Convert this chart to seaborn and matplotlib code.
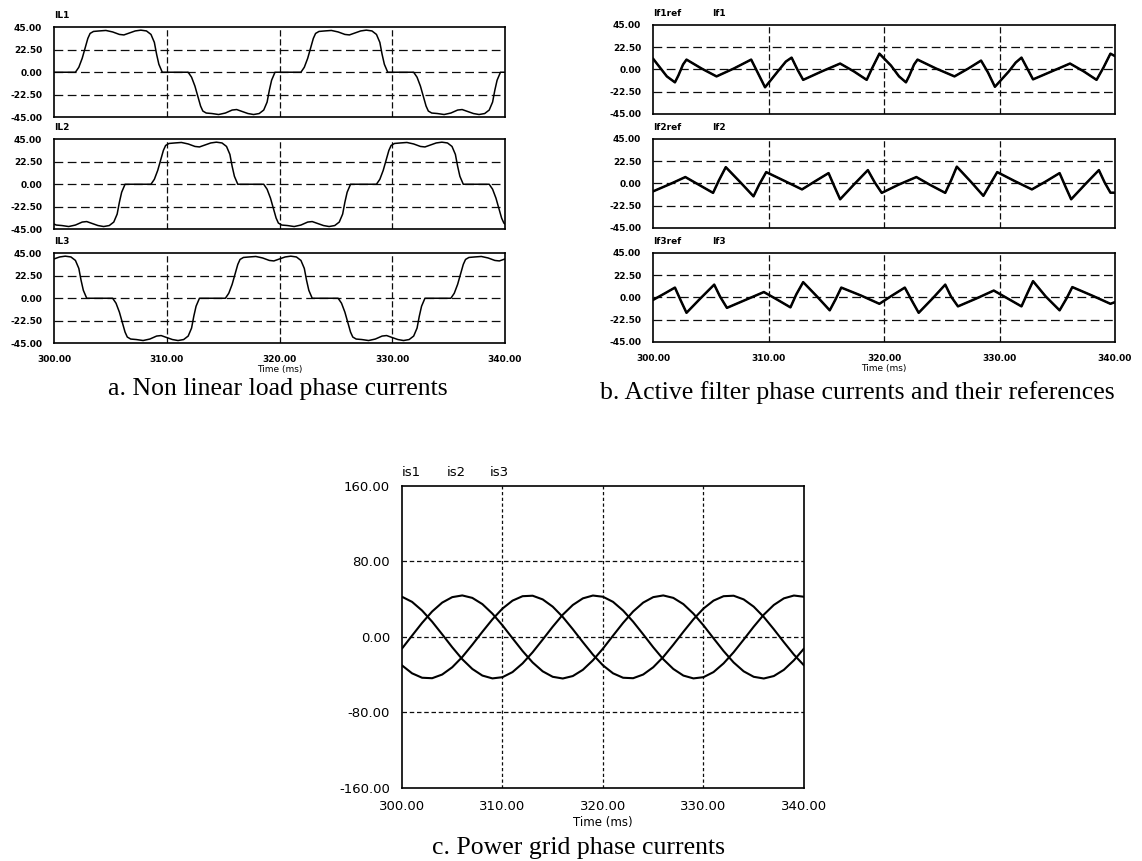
import matplotlib
matplotlib.use("Agg")
import matplotlib.pyplot as plt
import seaborn as sns

# ---------------- data (time in ms, current in A) ----------------

# a. non linear load phase currents
il1_t = [300.0,
         301.9, 302.2, 302.5, 302.8, 303.0, 303.2, 303.5, 304.0, 304.6, 305.2, 305.8, 306.2, 306.7, 307.2, 307.7, 308.2, 308.6, 308.9, 309.1, 309.3, 309.6,
         311.9, 312.2, 312.5, 312.8, 313.0, 313.2, 313.5, 314.0, 314.6, 315.2, 315.8, 316.2, 316.7, 317.2, 317.7, 318.2, 318.6, 318.9, 319.1, 319.3, 319.6,
         321.9, 322.2, 322.5, 322.8, 323.0, 323.2, 323.5, 324.0, 324.6, 325.2, 325.8, 326.2, 326.7, 327.2, 327.7, 328.2, 328.6, 328.9, 329.1, 329.3, 329.6,
         331.9, 332.2, 332.5, 332.8, 333.0, 333.2, 333.5, 334.0, 334.6, 335.2, 335.8, 336.2, 336.7, 337.2, 337.7, 338.2, 338.6, 338.9, 339.1, 339.3, 339.6,
         340.0]
il1_v = [0,
         0, 5, 14, 26, 34, 39, 41, 41.5, 42, 40.5, 38, 37.5, 39.5, 41.5, 42.3, 41.5, 38, 30, 18, 8, 0,
         0, -5, -14, -26, -34, -39, -41, -41.5, -42.5, -41, -38, -37.5, -39.5, -41.5, -42.5, -41.5, -38, -30, -18, -8, 0,
         0, 5, 14, 26, 34, 39, 41, 41.5, 42, 40.5, 38, 37.5, 39.5, 41.5, 42.3, 41.5, 38, 30, 18, 8, 0,
         0, -5, -14, -26, -34, -39, -41, -41.5, -42.5, -41, -38, -37.5, -39.5, -41.5, -42.5, -41.5, -38, -30, -18, -8, 0,
         0]

il2_t = [300.0, 300.2, 300.7, 301.3, 301.9, 302.5, 302.9, 303.4, 303.9, 304.4, 304.9, 305.3, 305.6, 305.8, 306.0, 306.3,
         308.6, 308.9, 309.2, 309.5, 309.7, 309.9, 310.2, 310.7, 311.3, 311.9, 312.5, 312.9, 313.4, 313.9, 314.4, 314.9, 315.3, 315.6, 315.8, 316.0, 316.3,
         318.6, 318.9, 319.2, 319.5, 319.7, 319.9, 320.2, 320.7, 321.3, 321.9, 322.5, 322.9, 323.4, 323.9, 324.4, 324.9, 325.3, 325.6, 325.8, 326.0, 326.3,
         328.6, 328.9, 329.2, 329.5, 329.7, 329.9, 330.2, 330.7, 331.3, 331.9, 332.5, 332.9, 333.4, 333.9, 334.4, 334.9, 335.3, 335.6, 335.8, 336.0, 336.3,
         338.6, 338.9, 339.2, 339.5, 339.7, 339.9, 340.0]
il2_v = [-40, -41, -41.5, -42.5, -41, -38, -37.5, -39.5, -41.5, -42.5, -41.5, -38, -30, -18, -8, 0,
         0, 5, 14, 26, 34, 39, 41, 41.5, 42, 40.5, 38, 37.5, 39.5, 41.5, 42.3, 41.5, 38, 30, 18, 8, 0,
         0, -5, -14, -26, -34, -39, -41, -41.5, -42.5, -41, -38, -37.5, -39.5, -41.5, -42.5, -41.5, -38, -30, -18, -8, 0,
         0, 5, 14, 26, 34, 39, 41, 41.5, 42, 40.5, 38, 37.5, 39.5, 41.5, 42.3, 41.5, 38, 30, 18, 8, 0,
         0, -5, -14, -26, -34, -39, -40]

il3_t = [300.0, 300.5, 301.0, 301.5, 301.9, 302.2, 302.4, 302.6, 302.9,
         305.2, 305.5, 305.8, 306.1, 306.3, 306.5, 306.8, 307.3, 307.9, 308.5, 309.1, 309.5, 310.0, 310.5, 311.0, 311.5, 311.9, 312.2, 312.4, 312.6, 312.9,
         315.2, 315.5, 315.8, 316.1, 316.3, 316.5, 316.8, 317.3, 317.9, 318.5, 319.1, 319.5, 320.0, 320.5, 321.0, 321.5, 321.9, 322.2, 322.4, 322.6, 322.9,
         325.2, 325.5, 325.8, 326.1, 326.3, 326.5, 326.8, 327.3, 327.9, 328.5, 329.1, 329.5, 330.0, 330.5, 331.0, 331.5, 331.9, 332.2, 332.4, 332.6, 332.9,
         335.2, 335.5, 335.8, 336.1, 336.3, 336.5, 336.8, 337.3, 337.9, 338.5, 339.1, 339.5, 340.0]
il3_v = [39.5, 41.5, 42.3, 41.5, 38, 30, 18, 8, 0,
         0, -5, -14, -26, -34, -39, -41, -41.5, -42.5, -41, -38, -37.5, -39.5, -41.5, -42.5, -41.5, -38, -30, -18, -8, 0,
         0, 5, 14, 26, 34, 39, 41, 41.5, 42, 40.5, 38, 37.5, 39.5, 41.5, 42.3, 41.5, 38, 30, 18, 8, 0,
         0, -5, -14, -26, -34, -39, -41, -41.5, -42.5, -41, -38, -37.5, -39.5, -41.5, -42.5, -41.5, -38, -30, -18, -8, 0,
         0, 5, 14, 26, 34, 39, 41, 41.5, 42, 40.5, 38, 37.5, 39.5]

# b. active filter currents (reference and measured overlap at this scale)
if1_t = [300.0, 300.6, 301.2, 301.9, 302.2, 302.6, 302.9, 304.2, 305.5, 307.0, 308.0, 308.5, 309.1, 309.7,
         310.8, 311.5, 312.0, 312.5, 313.0, 314.6, 316.2, 317.4, 318.5, 319.0, 319.6, 320.6, 321.3, 321.9,
         322.2, 322.6, 322.9, 324.5, 326.1, 327.3, 328.4, 329.0, 329.6, 330.8, 331.4, 331.9, 332.4, 332.9,
         334.5, 336.1, 337.3, 338.4, 339.0, 339.6, 340.0]
if1_v = [11, 2, -7, -13, -6, 5, 10, 1, -7, 1, 7, 10, -4, -18,
         -2, 8, 12, 0, -10.5, -2, 6, -2, -10.5, 2, 16, 4, -7, -13,
         -6, 5, 10, 1, -7, 1, 9, -3, -17.5, -2, 7, 12, 1, -10,
         -2, 6, -2, -10.5, 2, 16, 13.5]
if1_ref_v = if1_v

if2_t = [300.0, 301.4, 302.8, 304.0, 305.2, 305.7, 306.3, 307.5, 308.7, 309.2, 309.8, 311.4, 312.9, 314.0,
         315.2, 315.7, 316.2, 317.4, 318.6, 319.2, 319.8, 321.3, 322.8, 324.0, 325.3, 325.8, 326.3, 327.5,
         328.6, 329.2, 329.8, 331.3, 332.8, 334.0, 335.2, 335.7, 336.2, 337.4, 338.6, 339.1, 339.6, 340.0]
if2_v = [-8, -1, 6.5, -1.5, -9.5, 3, 16.5, 2, -13, -1, 11.5, 2.5, -6, 2,
         10.5, -3, -16, -1, 13.5, 1, -9.5, -1, 6.5, -1.5, -9.5, 3, 17, 2,
         -12.5, -0.5, 11.5, 2.5, -6, 2, 10.5, -3, -16, -1, 13.5, 1, -9.3, -9.3]
if2_ref_v = if2_v

if3_t = [300.0, 301.0, 301.9, 302.4, 302.9, 304.1, 305.3, 305.8, 306.4, 308.0, 309.6, 310.8, 311.9, 312.4,
         313.0, 314.2, 315.3, 315.8, 316.3, 318.0, 319.6, 320.7, 321.8, 322.4, 323.0, 324.2, 325.3, 325.8,
         326.4, 328.0, 329.5, 330.7, 331.9, 332.4, 332.9, 334.0, 335.2, 335.8, 336.3, 338.0, 339.6, 340.0]
if3_v = [-2.5, 4, 10, -3, -15.5, -1, 13, 1, -10.5, -2.5, 5.5, -2.5, -10, 3,
         15.5, 1, -13, -2, 10, 2, -6.4, 2, 10, -3, -15.5, -1, 13, 1,
         -9, -1, 7, -1, -9, 4, 16.5, 1, -13, -1, 10.5, 2, -6.4, -4.7]
if3_ref_v = if3_v

# c. power grid currents, read every 1 ms
is_t = list(range(300, 341))
is1_v = [-12.3, 1.4, 14.9, 27.0, 36.4, 42.2, 44.0, 41.4, 34.8, 24.7, 12.3, -1.4, -14.9, -27.0, -36.4, -42.2, -44.0, -41.4, -34.8, -24.7,
         -12.3, 1.4, 14.9, 27.0, 36.4, 42.2, 44.0, 41.4, 34.8, 24.7, 12.3, -1.4, -14.9, -27.0, -36.4, -42.2, -44.0, -41.4, -34.8, -24.7,
         -12.3]
is2_v = [-30.1, -38.5, -43.2, -43.7, -39.8, -32.1, -21.2, -8.2, 5.5, 18.7, 30.1, 38.5, 43.2, 43.7, 39.8, 32.1, 21.2, 8.2, -5.5, -18.7,
         -30.1, -38.5, -43.2, -43.7, -39.8, -32.1, -21.2, -8.2, 5.5, 18.7, 30.1, 38.5, 43.2, 43.7, 39.8, 32.1, 21.2, 8.2, -5.5, -18.7,
         -30.1]
is3_v = [42.6, 37.2, 28.0, 16.2, 2.8, -10.9, -23.6, -33.9, -40.9, -43.9, -42.6, -37.2, -28.0, -16.2, -2.8, 10.9, 23.6, 33.9, 40.9, 43.9,
         42.6, 37.2, 28.0, 16.2, 2.8, -10.9, -23.6, -33.9, -40.9, -43.9, -42.6, -37.2, -28.0, -16.2, -2.8, 10.9, 23.6, 33.9, 40.9, 43.9,
         42.6]

x_ticks = [300, 310, 320, 330, 340]
x_labels = ["300.00", "310.00", "320.00", "330.00", "340.00"]
small_y_ticks = [-45, -22.5, 0, 22.5, 45]
small_y_labels = ["-45.00", "-22.50", "0.00", "22.50", "45.00"]
big_y_ticks = [-160, -80, 0, 80, 160]
big_y_labels = ["-160.00", "-80.00", "0.00", "80.00", "160.00"]

# ---------------- figure ----------------
sns.set_theme(style="white")
plt.rcParams["font.family"] = ["DejaVu Sans"]
plt.rcParams["text.color"] = "black"
plt.rcParams["axes.labelcolor"] = "black"
plt.rcParams["xtick.color"] = "black"
plt.rcParams["ytick.color"] = "black"

fig = plt.figure(figsize=(11.42, 8.61), dpi=100)


def style_axes(ax, yticks, ylabels, show_x, fs, weight, hdash, vdash):
    ax.set_xlim(300, 340)
    ax.set_ylim(yticks[0], yticks[-1])
    ax.set_xticks(x_ticks)
    ax.set_yticks(yticks)
    ax.set_yticklabels(ylabels, fontsize=fs, fontweight=weight)
    if show_x:
        ax.set_xticklabels(x_labels, fontsize=fs, fontweight=weight)
    else:
        ax.set_xticklabels([])
    ax.tick_params(length=0, pad=8.5, colors="black")
    ax.yaxis.grid(True, color="0.05", linewidth=0.9, linestyle=(0, hdash))
    ax.xaxis.grid(True, color="0.05", linewidth=0.9, linestyle=(0, vdash))
    # grid lines on the frame edges would break up the solid border
    for gl in (ax.get_xgridlines()[0], ax.get_xgridlines()[-1],
               ax.get_ygridlines()[0], ax.get_ygridlines()[-1]):
        gl.set_visible(False)
    for s in ax.spines.values():
        s.set_color("black")
        s.set_linewidth(1.2)
        s.set_zorder(5)
    ax.set_ylabel("")
    ax.set_xlabel("")


# panel a
a_rows = [(0.8641, il1_t, il1_v, "IL1"), (0.7340, il2_t, il2_v, "IL2"), (0.6016, il3_t, il3_v, "IL3")]
for i, (bottom, t, v, name) in enumerate(a_rows):
    ax = fig.add_axes([0.0473, bottom, 0.3949, 0.104])
    sns.lineplot(x=t, y=v, ax=ax, color="black", linewidth=1.1, estimator=None, sort=False)
    style_axes(ax, small_y_ticks, small_y_labels, i == 2, 6.5, "bold", (7, 3.6), (5, 2.2))
    ax.text(0.0, 1.0 + 12 / 89, name, transform=ax.transAxes, fontsize=6.5,
            fontweight="bold", va="center", ha="left")
    if i == 2:
        ax.set_xlabel("Time (ms)", fontsize=6.5, labelpad=1)

# panel b
b_rows = [(0.8676, if1_t, if1_ref_v, if1_v, "If1"), (0.7352, if2_t, if2_ref_v, if2_v, "If2"),
          (0.6028, if3_t, if3_ref_v, if3_v, "If3")]
for i, (bottom, t, vref, v, name) in enumerate(b_rows):
    ax = fig.add_axes([0.5718, bottom, 0.4046, 0.1034])
    sns.lineplot(x=t, y=vref, ax=ax, color="black", linewidth=1.8, estimator=None, sort=False)
    sns.lineplot(x=t, y=v, ax=ax, color="black", linewidth=1.0, estimator=None, sort=False)
    style_axes(ax, small_y_ticks, small_y_labels, i == 2, 6.5, "bold", (7, 3.6), (5, 2.2))
    ax.text(0.0, 1.0 + 11 / 89, name + "ref", transform=ax.transAxes, fontsize=6.5,
            fontweight="bold", va="center", ha="left")
    ax.text(0.128, 1.0 + 11 / 89, name, transform=ax.transAxes, fontsize=6.5,
            fontweight="bold", va="center", ha="left")
    if i == 2:
        ax.set_xlabel("Time (ms)", fontsize=6.5, labelpad=1)

# panel c
axc = fig.add_axes([0.3520, 0.0848, 0.3520, 0.3508])
for vals in (is1_v, is2_v, is3_v):
    sns.lineplot(x=is_t, y=vals, ax=axc, color="black", linewidth=1.5, estimator=None, sort=False)
style_axes(axc, big_y_ticks, big_y_labels, True, 9.5, "normal", (3.6, 2.2), (2.6, 2.0))
for x0, name in [(0.0, "is1"), (0.112, "is2"), (0.219, "is3")]:
    axc.text(x0, 1.0 + 13 / 302, name, transform=axc.transAxes, fontsize=9.5,
             va="center", ha="left")
axc.set_xlabel("Time (ms)", fontsize=8.5, labelpad=2)

# captions
cap_font = ["Liberation Serif", "DejaVu Serif"]
fig.text(278 / 1142, 1 - 389 / 861, "a. Non linear load phase currents", fontsize=18.5,
         family=cap_font, ha="center", va="center", color="black")
fig.text(857 / 1142, 1 - 393 / 861, "b. Active filter phase currents and their references", fontsize=18.5,
         family=cap_font, ha="center", va="center", color="black")
fig.text(579 / 1142, 1 - 848 / 861, "c. Power grid phase currents", fontsize=18.5,
         family=cap_font, ha="center", va="center", color="black")

fig.savefig("out.png", dpi=100, facecolor="white")
